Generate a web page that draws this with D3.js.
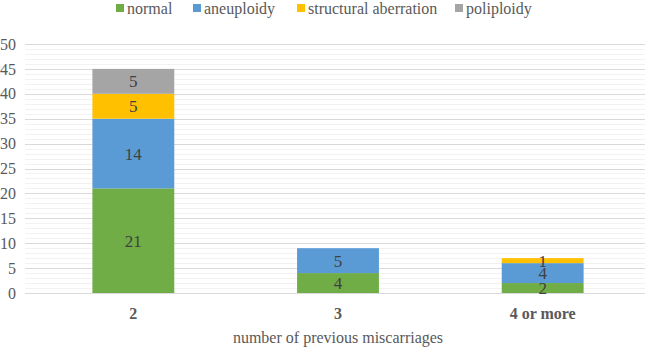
<!DOCTYPE html>
<html>
<head>
<meta charset="utf-8">
<script src="https://cdn.jsdelivr.net/npm/d3@7"></script>
<style>
  body { margin: 0; background: #fff; }
</style>
</head>
<body>
<div id="chart"></div>
<script>
// data
var categories = ["2", "3", "4 or more"];
var seriesNames = ["normal", "aneuploidy", "structural aberration", "poliploidy"];
var normal = [21, 4, 2];
var aneuploidy = [14, 5, 4];
var structural = [5, 0, 1];
var poliploidy = [5, 0, 0];
var yTicks = [0, 5, 10, 15, 20, 25, 30, 35, 40, 45, 50];
var colors = ["#70AD47", "#5B9BD5", "#FFC000", "#A5A5A5"];

var width = 645, height = 349;
var margin = {top: 44, right: 0, bottom: 56, left: 31};
var font = "'Liberation Serif', 'Times New Roman', 'DejaVu Serif', serif";

var svg = d3.select("#chart").append("svg")
  .attr("width", width)
  .attr("height", height)
  .attr("font-family", font);

// build rows for the stack
var rows = categories.map(function(c, i) {
  return {cat: c, normal: normal[i], aneuploidy: aneuploidy[i],
    "structural aberration": structural[i], poliploidy: poliploidy[i]};
});
var stacked = d3.stack().keys(seriesNames)(rows);

var x = d3.scaleBand()
  .domain(categories)
  .range([margin.left, width - margin.right])
  .paddingInner(0.6)
  .paddingOuter(0.3);

var y = d3.scaleLinear()
  .domain([0, 50])
  .range([height - margin.bottom, margin.top]);

// minor gridlines
svg.append("g")
  .selectAll("line")
  .data(d3.range(1, 50).filter(function(v) { return v % 5 !== 0; }))
  .enter().append("line")
  .attr("x1", 25).attr("x2", width)
  .attr("y1", function(d) { return Math.round(y(d)) + 0.5; })
  .attr("y2", function(d) { return Math.round(y(d)) + 0.5; })
  .attr("stroke", "#F2F2F2");

// major gridlines
svg.append("g")
  .selectAll("line")
  .data(yTicks)
  .enter().append("line")
  .attr("x1", 25).attr("x2", width)
  .attr("y1", function(d) { return Math.round(y(d)) + 0.5; })
  .attr("y2", function(d) { return Math.round(y(d)) + 0.5; })
  .attr("stroke", "#D9D9D9");

// y labels
svg.append("g")
  .selectAll("text")
  .data(yTicks)
  .enter().append("text")
  .attr("x", 16)
  .attr("y", function(d) { return y(d); })
  .attr("dy", "0.35em")
  .attr("text-anchor", "end")
  .attr("fill", "#595959")
  .style("font-size", "16px")
  .text(function(d) { return d; });

// bars
var groups = svg.append("g")
  .selectAll("g")
  .data(stacked)
  .enter().append("g")
  .attr("fill", function(d, i) { return colors[i]; });

groups.selectAll("rect")
  .data(function(d) { return d; })
  .enter().append("rect")
  .attr("x", function(d) { return x(d.data.cat); })
  .attr("width", x.bandwidth())
  .attr("y", function(d) { return y(d[1]); })
  .attr("height", function(d) { return y(d[0]) - y(d[1]); });

// data labels
groups.selectAll("text")
  .data(function(d) { return d.filter(function(p) { return p[1] - p[0] > 0; }); })
  .enter().append("text")
  .attr("x", function(d) { return x(d.data.cat) + x.bandwidth() / 2; })
  .attr("y", function(d) { return (y(d[0]) + y(d[1])) / 2; })
  .attr("dy", "0.35em")
  .attr("text-anchor", "middle")
  .attr("fill", "#404040")
  .style("font-size", "17px")
  .text(function(d) { return d[1] - d[0]; });

// x labels
svg.append("g")
  .selectAll("text")
  .data(categories)
  .enter().append("text")
  .attr("x", function(d) { return x(d) + x.bandwidth() / 2; })
  .attr("y", 319)
  .attr("text-anchor", "middle")
  .attr("fill", "#595959")
  .style("font-size", "16px")
  .style("font-weight", "bold")
  .text(function(d) { return d; });

// axis title
svg.append("text")
  .attr("x", x("3") + x.bandwidth() / 2)
  .attr("y", 343)
  .attr("text-anchor", "middle")
  .attr("fill", "#595959")
  .style("font-size", "16px")
  .text("number of previous miscarriages");

// legend
var legendX = [116, 193, 297, 455];
var legend = svg.append("g")
  .selectAll("g")
  .data(seriesNames)
  .enter().append("g")
  .attr("transform", function(d, i) { return "translate(" + legendX[i] + ",8)"; });
legend.append("rect")
  .attr("x", 0).attr("y", -4)
  .attr("width", 8).attr("height", 8)
  .attr("fill", function(d, i) { return colors[i]; });
legend.append("text")
  .attr("x", 11).attr("y", 0)
  .attr("dy", "0.35em")
  .attr("fill", "#595959")
  .style("font-size", "16px")
  .text(function(d) { return d; });
</script>
</body>
</html>
